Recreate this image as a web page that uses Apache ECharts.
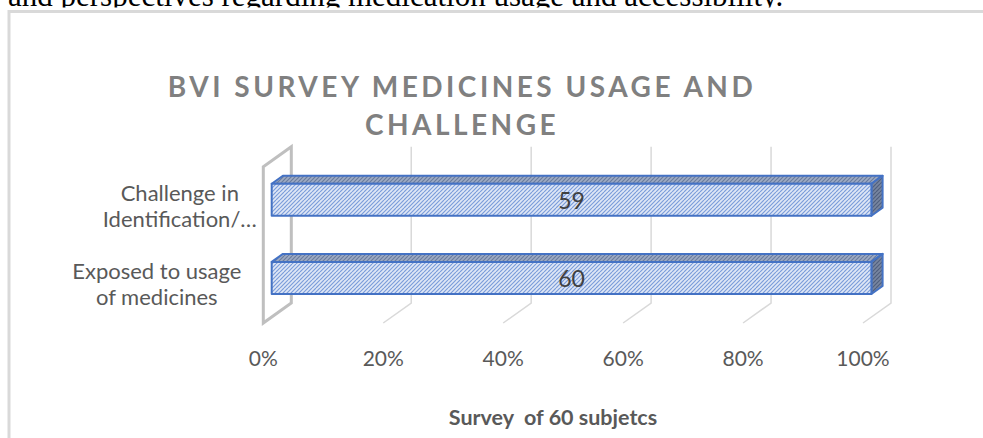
<!DOCTYPE html>
<html>
<head>
<meta charset="utf-8">
<script src="https://cdn.jsdelivr.net/npm/echarts@6/dist/echarts.min.js"></script>
<style>
  html, body { margin: 0; padding: 0; background: #ffffff; }
  #chart { width: 983px; height: 438px; }
  /* spaced-out chart heading (only the title uses this font list) */
  #chart text[style*="Noto Sans"] { letter-spacing: 3.5px; }
</style>
</head>
<body>
<div id="chart"></div>
<script>
// ---- data ----
const categories = ['Exposed to usage\nof medicines', 'Challenge in\nIdentification/\u2026'];
const respondents = [60, 59];
const xTicks = [0, 20, 40, 60, 80, 100];
const titleLines = ['BVI SURVEY MEDICINES USAGE AND', 'CHALLENGE'];
const xAxisTitle = 'Survey  of 60 subjetcs';
const pageLine = 'and perspectives regarding medication usage and accessibility.';

// 100% stacked: each category's share of its own total
const seriesValues = [respondents];
const totals = categories.map((_, i) => seriesValues.reduce((s, arr) => s + arr[i], 0));
const shares = respondents.map((v, i) => v / totals[i] * 100);

// ---- 3D look ----
const DEPTH = [28, -20];          // floor depth in px (front plane -> back wall)
const BAR_FRONT = 0.3, BAR_BACK = 0.7;
const EDGE = '#4472c4';

function hatch(bg, fg) {
  const c = document.createElement('canvas');
  c.width = 8; c.height = 8;
  const g = c.getContext('2d');
  g.fillStyle = bg; g.fillRect(0, 0, 8, 8);
  g.strokeStyle = fg; g.lineWidth = 1.2;
  g.beginPath();
  for (let k = -8; k <= 16; k += 4) { g.moveTo(k, 8); g.lineTo(k + 8, 0); }
  g.stroke();
  return { image: c.toDataURL(), imageWidth: 8, imageHeight: 8, repeat: 'repeat' };
}
const frontFill = hatch('#dfe7f6', '#7c9dda');
const topFill = hatch('#9eabc4', '#6a7c9d');
const sideFill = hatch('#7886a1', '#505f7e');

// y labels: lines centred inside each label block
const labelRich = {
  a: { align: 'center', width: 155, fontSize: 22, lineHeight: 26, fontFamily: 'Lato', color: '#595959' },
  b: { align: 'center', width: 167, padding: [0, 17, 0, 0], fontSize: 22, lineHeight: 26,
       fontFamily: 'Lato', color: '#595959' }
};
function yLabel(value) {
  const key = value.indexOf('Challenge') === 0 ? 'a' : 'b';
  return value.split('\n').map(line => '{' + key + '|' + line + '}').join('\n');
}

function renderGrid(params, api) {
  const cs = params.coordSys;
  const x = api.coord([api.value(0), 0])[0];
  const top = cs.y, bottom = cs.y + cs.height;
  const fb = [x, bottom], bb = [x + DEPTH[0], bottom + DEPTH[1]];
  const bt = [x + DEPTH[0], top + DEPTH[1]], ft = [x, top];
  if (api.value(0) === 0) {
    return { type: 'polygon', shape: { points: [fb, ft, bt, bb] },
      style: { fill: 'none', stroke: '#bfbfbf', lineWidth: 3 } };
  }
  return { type: 'polyline', shape: { points: [bt, bb, fb] },
    style: { fill: 'none', stroke: '#d9d9d9', lineWidth: 1.5 } };
}

function renderBar(params, api) {
  const cat = api.value(1);
  const p0 = api.coord([0, cat]);
  const p1 = api.coord([api.value(0), cat]);
  const h = api.size([0, 1])[1] * 0.41;
  const fx = DEPTH[0] * BAR_FRONT, fy = DEPTH[1] * BAR_FRONT;
  const dx = DEPTH[0] * (BAR_BACK - BAR_FRONT), dy = DEPTH[1] * (BAR_BACK - BAR_FRONT);
  const x0 = p0[0] + fx, x1 = p1[0] + fx;
  const yt = p0[1] + fy - h / 2, yb = yt + h;
  const edge = { stroke: EDGE, lineWidth: 2, lineJoin: 'round' };
  return {
    type: 'group',
    children: [
      { type: 'polygon', shape: { points: [[x0, yt], [x1, yt], [x1 + dx, yt + dy], [x0 + dx, yt + dy]] },
        style: Object.assign({ fill: topFill }, edge) },
      { type: 'polygon', shape: { points: [[x1, yt], [x1 + dx, yt + dy], [x1 + dx, yb + dy], [x1, yb]] },
        style: Object.assign({ fill: sideFill }, edge) },
      { type: 'rect', shape: { x: x0, y: yt, width: x1 - x0, height: h },
        style: Object.assign({ fill: frontFill }, edge) },
      { type: 'text', style: { text: String(api.value(2)), x: (x0 + x1) / 2, y: (yt + yb) / 2,
        align: 'center', verticalAlign: 'middle', fill: '#404040', fontSize: 23, fontFamily: 'Lato' } }
    ]
  };
}

const chart = echarts.init(document.getElementById('chart'), null, { renderer: 'svg' });
chart.setOption({
  animation: false,
  backgroundColor: '#ffffff',
  title: {
    text: titleLines.join('\n'),
    left: 462, top: 67, textAlign: 'center', padding: 0,
    textStyle: { fontFamily: 'Lato, Noto Sans', fontWeight: 'bold', fontSize: 28,
      lineHeight: 38, color: '#808080' }
  },
  grid: { left: 263.3, right: 120, top: 166.7, bottom: 115, containLabel: false },
  xAxis: {
    type: 'value', min: 0, max: 100, interval: 20,
    axisLine: { show: false }, axisTick: { show: false }, splitLine: { show: false },
    axisLabel: { formatter: '{value}%', color: '#595959', fontSize: 21, fontFamily: 'Lato', margin: 24 }
  },
  yAxis: {
    type: 'category', data: categories,
    axisLine: { show: false }, axisTick: { show: false }, splitLine: { show: false },
    axisLabel: { formatter: yLabel, rich: labelRich, color: '#595959', fontSize: 22,
      lineHeight: 26, fontFamily: 'Lato', margin: 6 }
  },
  graphic: [
    { type: 'text', z: -3, style: { text: pageLine, x: 8, y: -4.8, fill: '#000000',
      fontSize: 31, fontFamily: 'Liberation Serif', verticalAlign: 'middle' } },
    { type: 'rect', z: -2, shape: { x: 0, y: 7.5, width: 983, height: 6 }, style: { fill: '#ffffff' } },
    { type: 'rect', z: -1, shape: { x: 9, y: 11.5, width: 1000, height: 500 },
      style: { fill: '#ffffff', stroke: '#d9d9d9', lineWidth: 3 } },
    { type: 'text', style: { text: xAxisTitle, x: 553, y: 417, align: 'center', verticalAlign: 'middle',
      fill: '#595959', fontSize: 21.5, fontWeight: 'bold', fontFamily: 'Lato' } }
  ],
  series: [
    { type: 'custom', clip: false, renderItem: renderGrid, data: xTicks.map(v => [v, 0]), z: 1 },
    { type: 'custom', clip: false, renderItem: renderBar,
      data: shares.map((s, i) => [s, i, respondents[i]]), z: 2 }
  ]
});
</script>
</body>
</html>
